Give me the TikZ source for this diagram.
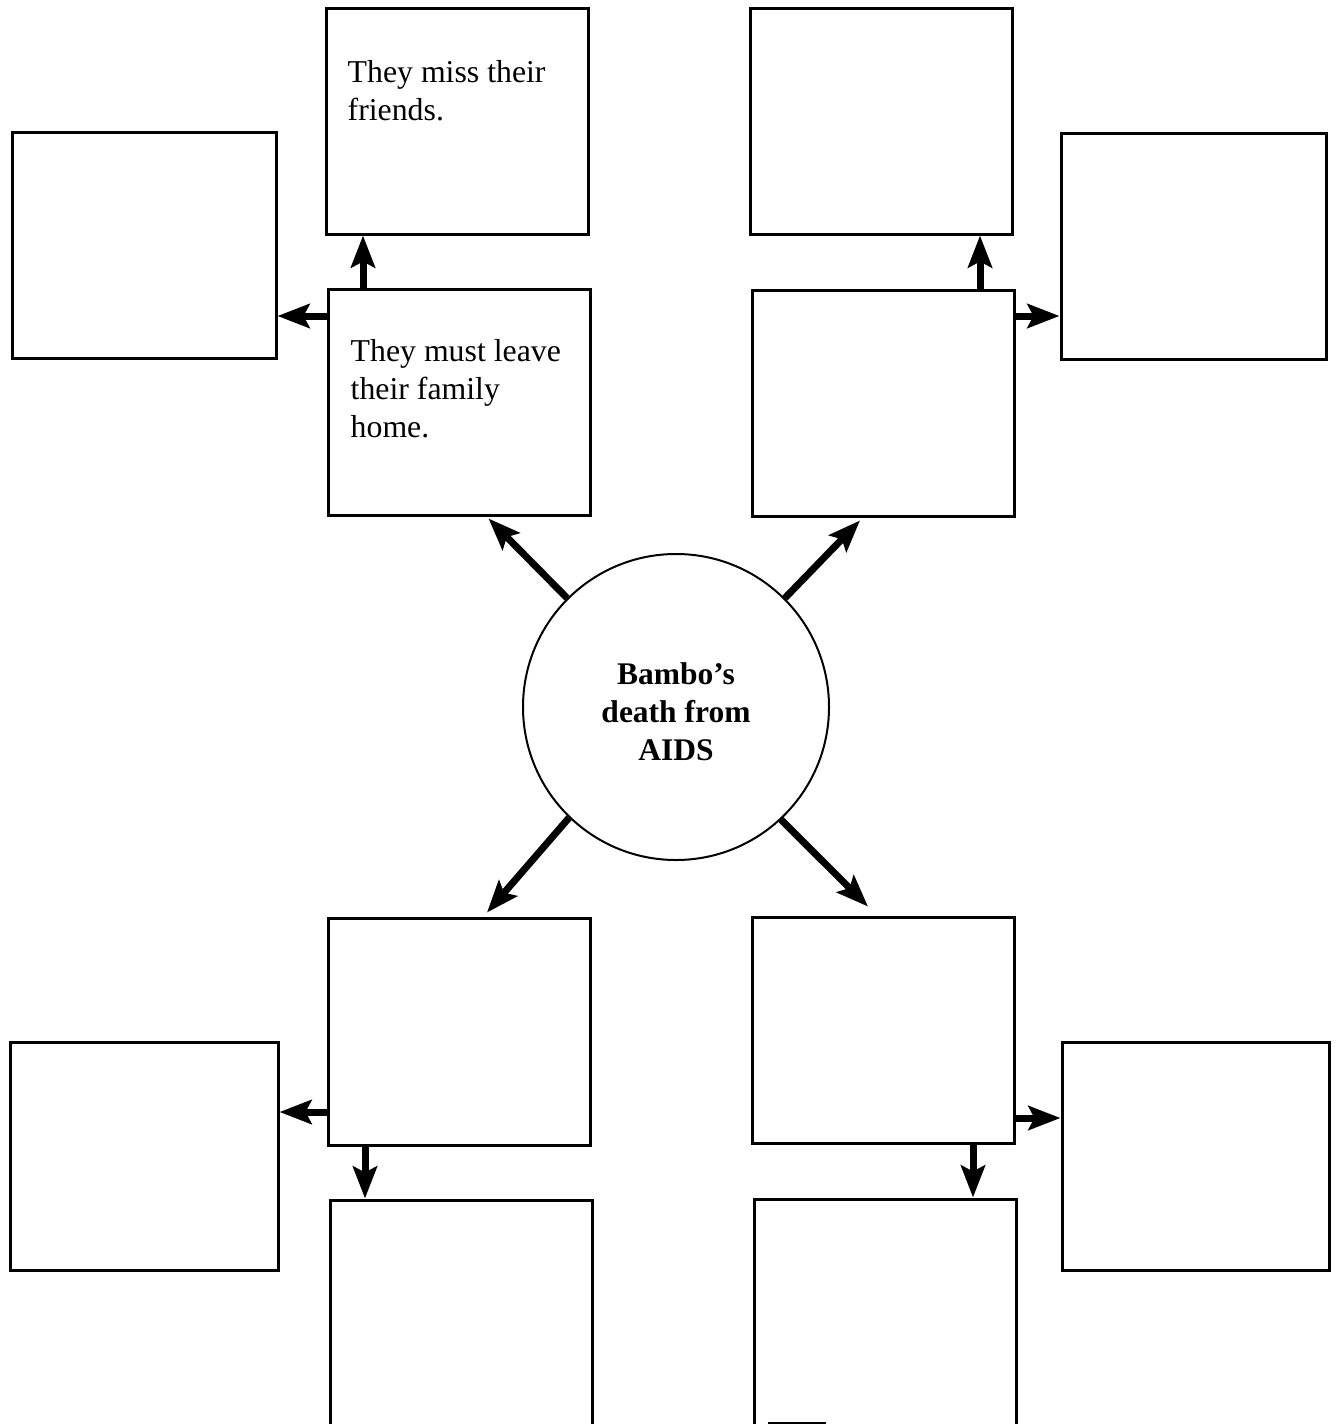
\documentclass[tikz,border=0pt]{standalone}
\usepackage{fontspec}
\setmainfont{Liberation Serif}
\usetikzlibrary{arrows.meta}
\tikzset{
  box/.style={draw, line width=3, minimum width=262, minimum height=226, inner sep=0},
  hub/.style={draw, circle, line width=2, minimum size=306, inner sep=0},
  hubtxt/.style={inner sep=0, align=center, font=\bfseries\fontsize{31.5}{38}\selectfont},
  note/.style={anchor=north west, inner sep=0, align=left, font=\fontsize{31.8}{38}\selectfont},
  arr/.style={line width=7, -{Stealth[length=32pt,width=24pt,inset=6pt]}}
}
\begin{document}
\begin{tikzpicture}[x=1pt,y=-1pt]
  \useasboundingbox (0,0) rectangle (1336,1424);
  \clip (0,0) rectangle (1336,1424);
  % centre
  \node[hub] (hub) at (676,707) {};
  \node[hubtxt] (hubtxt) at ([yshift=-5pt]hub.center) {Bambo’s\\death from\\AIDS};
  % upper left
  \node[box] (miss) at (457.5,121) {};
  \node[box] (leave) at (459.5,402) {};
  \node[box, minimum width=264] (tlside) at (144,245) {};
  \node[note] (misstxt) at ([shift={(22.5,54)}]miss.north west) {They miss their\\friends.};
  \node[note] (leavetxt) at ([shift={(23.5,52)}]leave.north west) {They must leave\\their family\\home.};
  \draw[arr] ([shift={(-96.5,0)}]leave.north) -- ([shift={(-94.5,0)}]miss.south);
  \draw[arr] ([shift={(0,-86)}]leave.west) -- ([shift={(0,71)}]tlside.east);
  % upper right
  \node[box] (trtop) at (881,121) {};
  \node[box] (trmid) at (883,403) {};
  \node[box, minimum width=265] (trside) at (1193.5,246) {};
  \draw[arr] ([shift={(97,0)}]trmid.north) -- ([shift={(99,0)}]trtop.south);
  \draw[arr] ([shift={(0,-87)}]trmid.east) -- ([shift={(0,70)}]trside.west);
  % lower left
  \node[box, minimum height=227] (blmid) at (459,1031.5) {};
  \node[box, minimum width=268, minimum height=228] (blside) at (144,1156) {};
  \node[box, minimum height=240] (blbot) at (461,1320) {};
  \draw[arr] ([shift={(0,80.5)}]blmid.west) -- ([shift={(0,-44)}]blside.east);
  \draw[arr] ([shift={(-94,0)}]blmid.south) -- ([shift={(-96,0)}]blbot.north);
  % lower right
  \node[box] (brmid) at (883,1030) {};
  \node[box, minimum width=267, minimum height=228] (brside) at (1195.5,1156) {};
  \node[box, minimum height=240] (brbot) at (885,1319) {};
  \draw[arr] ([shift={(0,88)}]brmid.east) -- ([shift={(0,-38)}]brside.west);
  \draw[arr] ([shift={(90,0)}]brmid.south) -- ([shift={(88,0)}]brbot.north);
  \draw[line width=2] (768,1423) -- (826,1423);
  % from the centre
  \draw[arr] (hub.135) -- ([shift={(29,2)}]leave.south);
  \draw[arr] (hub.45) -- ([shift={(-23,3)}]trmid.south);
  \draw[arr] (hub.-134) -- ([shift={(28,-4)}]blmid.north);
  \draw[arr] (hub.-47) -- ([shift={(-15,-9)}]brmid.north);
\end{tikzpicture}
\end{document}
